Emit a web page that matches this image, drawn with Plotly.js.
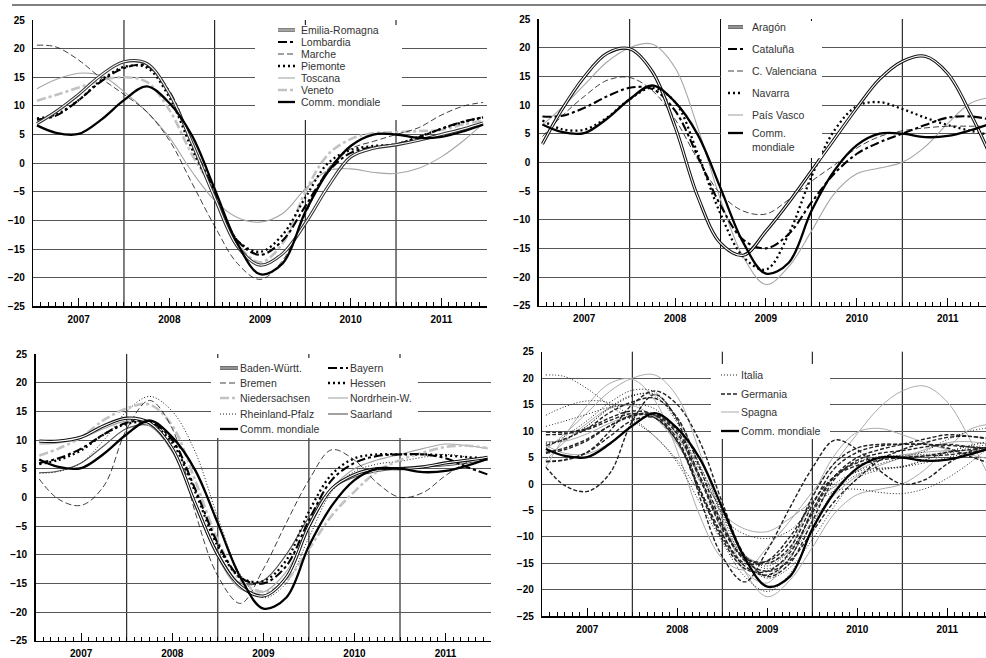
<!DOCTYPE html>
<html>
<head>
<meta charset="utf-8">
<script src="https://cdn.plot.ly/plotly-3.0.1.min.js"></script>
<style>
  html, body { margin: 0; padding: 0; background: #fff; }
  #chart { width: 986px; height: 658px; }
</style>
</head>
<body>
<div id="chart"></div>
<script>
// Time axis in fractional years (quarterly readings)
const X = [2007.04, 2007.25, 2007.5, 2007.75, 2008.0, 2008.25, 2008.5, 2008.75, 2009.0, 2009.25,
           2009.5, 2009.75, 2010.0, 2010.25, 2010.5, 2010.75, 2011.0, 2011.25, 2011.5, 2011.75, 2011.96];
const YEAR_MID = [2007.5, 2008.5, 2009.5, 2010.5, 2011.5];
const YEAR_LABELS = ['2007', '2008', '2009', '2010', '2011'];
const YEAR_BOUNDS = [2008, 2009, 2010, 2011];

// World trade
const commMondiale = [6.6, 5.3, 5.1, 7.6, 11.0, 13.4, 10.5, 4.8, -4.5, -14.0, -19.4, -17.5, -8.5, -1.5, 3.0, 5.0, 5.0, 4.4, 4.6, 5.6, 6.7];

// Italian regions
const ITALY_NAMES = ['Emilia-Romagna', 'Lombardia', 'Marche', 'Piemonte', 'Toscana', 'Veneto'];
const emiliaRomagna = [6.9, 9.0, 12.0, 15.4, 17.7, 17.4, 12.2, 3.5, -6.0, -14.5, -17.8, -15.8, -10.5, -4.1, 1.1, 2.6, 3.2, 4.0, 5.0, 6.0, 7.0];
const lombardia     = [7.6, 8.3, 11.0, 14.3, 16.6, 17.0, 12.5, 3.5, -5.0, -13.5, -16.0, -13.5, -7.5, -1.5, 1.8, 2.8, 3.3, 4.5, 6.0, 7.3, 8.0];
const marche        = [20.6, 20.3, 18.0, 14.8, 12.0, 9.0, 4.0, -3.5, -11.0, -17.5, -20.3, -17.0, -9.0, -1.0, 2.5, 3.8, 5.0, 6.2, 8.4, 10.0, 10.6];
const piemonte      = [7.8, 8.5, 11.0, 14.5, 16.8, 16.7, 11.5, 2.5, -5.5, -13.5, -15.5, -12.5, -6.0, 0.0, 2.3, 3.0, 3.3, 4.6, 6.0, 7.2, 8.0];
const toscana       = [13.0, 14.6, 15.7, 15.3, 12.5, 9.0, 4.5, -1.5, -6.5, -9.5, -10.3, -8.8, -4.5, -1.3, -1.0, -1.6, -1.8, -0.9, 1.1, 4.0, 6.9];
const veneto        = [10.9, 11.9, 13.2, 14.5, 15.0, 14.2, 9.3, 1.5, -5.0, -14.0, -17.3, -14.0, -5.0, 1.5, 4.2, 5.2, 5.4, 5.6, 5.8, 6.8, 7.5];

// Spanish regions
const SPAIN_NAMES = ['Aragón', 'Cataluña', 'C. Valenciana', 'Navarra', 'País Vasco'];
const aragon     = [3.2, 9.1, 14.9, 19.0, 19.8, 15.8, 6.2, -6.0, -14.1, -16.2, -12.0, -7.0, -1.5, 4.0, 9.5, 14.5, 17.6, 18.5, 15.5, 8.5, 1.5];
const cataluna   = [8.0, 8.1, 9.5, 11.5, 13.0, 12.8, 9.0, 1.0, -7.5, -13.5, -15.0, -12.5, -7.0, -2.0, 1.5, 3.5, 5.0, 6.5, 7.8, 8.0, 7.5];
const valenciana = [4.5, 8.0, 11.5, 14.3, 14.8, 12.5, 7.5, 0.5, -5.5, -8.5, -9.0, -6.5, -3.3, -0.5, 2.5, 4.5, 5.5, 6.0, 6.3, 6.3, 6.3];
const navarra    = [7.3, 5.8, 5.7, 7.8, 11.0, 13.0, 10.5, 1.5, -9.0, -16.5, -18.7, -12.5, -2.5, 5.5, 9.8, 10.5, 9.3, 7.8, 6.5, 5.5, 4.8];
const paisVasco  = [6.5, 9.5, 13.5, 17.5, 20.0, 20.6, 16.5, 6.0, -6.5, -16.5, -21.3, -18.2, -12.0, -5.5, -2.0, -1.0, 0.0, 2.7, 6.8, 10.3, 11.3];

// German Länder
const GERMANY_NAMES = ['Baden-Württ.', 'Bayern', 'Bremen', 'Hessen', 'Niedersachsen', 'Nordrhein-W.', 'Rheinland-Pfalz', 'Saarland'];
const badenWurtt    = [9.8, 9.8, 10.5, 12.5, 13.8, 13.0, 8.5, -1.0, -10.0, -15.5, -17.2, -14.0, -5.0, 1.5, 4.0, 5.0, 5.0, 5.3, 6.0, 6.5, 7.0];
const bayern        = [6.0, 6.8, 8.5, 11.0, 13.0, 13.2, 10.0, 1.5, -8.0, -14.0, -15.0, -12.0, -4.0, 3.0, 6.0, 7.2, 7.5, 7.5, 6.8, 5.2, 4.0];
const bremen        = [3.2, -0.3, -1.4, 2.0, 11.9, 16.9, 12.0, -2.5, -13.7, -18.5, -12.5, -4.5, 3.0, 8.3, 6.5, 2.5, 0.0, 0.8, 3.8, 6.2, 7.0];
const hessen        = [5.8, 6.5, 8.2, 11.0, 12.8, 13.0, 9.5, 1.0, -8.5, -14.0, -14.6, -11.0, -2.5, 4.0, 6.8, 7.5, 7.5, 7.5, 7.3, 7.0, 6.8];
const niedersachsen = [7.3, 8.5, 10.5, 13.5, 15.5, 16.2, 12.5, 3.0, -7.5, -14.5, -16.5, -14.5, -9.0, -3.2, 1.0, 4.5, 6.5, 7.8, 8.8, 9.0, 8.6];
const nordrheinW    = [9.3, 9.5, 10.3, 12.0, 13.3, 12.5, 8.0, -1.5, -10.5, -16.0, -16.5, -13.0, -5.5, 1.5, 5.0, 6.5, 7.5, 8.5, 9.3, 9.0, 8.5];
const rheinlandPf   = [4.2, 4.5, 6.0, 10.0, 15.0, 17.6, 15.0, 8.0, -3.5, -13.5, -17.5, -15.0, -7.0, 1.0, 4.5, 5.8, 6.3, 7.0, 7.5, 7.0, 6.5];
const saarland      = [4.3, 4.6, 6.0, 9.0, 12.0, 12.5, 8.0, -1.0, -9.5, -15.0, -14.5, -10.0, -3.5, 1.5, 3.5, 4.5, 5.0, 5.3, 5.5, 6.0, 6.5];

const COMM_NAME = 'Comm. mondiale';
const GROUP_NAMES = ['Italia', 'Germania', 'Spagna'];

// ---- line styles ----
const ST = {
  double:   { color: '#333', width: 3.2, inner: '#fff', innerWidth: 1.1 },
  doubleBk: { color: '#111', width: 3.2, inner: '#fff', innerWidth: 1.1 },
  dashDot:  { color: '#000', width: 2.1, dash: '9px,3px,3px,3px' },
  thinDash: { color: '#111', width: 0.8, dash: '6px,3px' },
  dot:      { color: '#000', width: 2.3, dash: '2px,3px' },
  grayThin: { color: '#a6a6a6', width: 1.1 },
  grayDash: { color: '#c2c2c2', width: 2.6, dash: '9px,3px,3px,3px' },
  fineDot:  { color: '#222', width: 1, dash: '1px,2px' },
  midGray:  { color: '#555', width: 1.1 },
  comm:     { color: '#000', width: 2.3 },
  itDot:    { color: '#222', width: 1, dash: '1px,2px' },
  deDash:   { color: '#222', width: 1.4, dash: '4px,2px' },
  esGray:   { color: '#ababab', width: 1 }
};

const italy = [
  { name: ITALY_NAMES[0], y: emiliaRomagna, st: ST.double },
  { name: ITALY_NAMES[1], y: lombardia, st: ST.dashDot },
  { name: ITALY_NAMES[2], y: marche, st: ST.thinDash },
  { name: ITALY_NAMES[3], y: piemonte, st: ST.dot },
  { name: ITALY_NAMES[4], y: toscana, st: ST.grayThin },
  { name: ITALY_NAMES[5], y: veneto, st: ST.grayDash }
];
const spain = [
  { name: SPAIN_NAMES[0], y: aragon, st: ST.doubleBk },
  { name: SPAIN_NAMES[1], y: cataluna, st: ST.dashDot },
  { name: SPAIN_NAMES[2], y: valenciana, st: ST.thinDash },
  { name: SPAIN_NAMES[3], y: navarra, st: ST.dot },
  { name: SPAIN_NAMES[4], y: paisVasco, st: ST.grayThin }
];
const germany = [
  { name: GERMANY_NAMES[0], y: badenWurtt, st: ST.doubleBk },
  { name: GERMANY_NAMES[1], y: bayern, st: ST.dashDot },
  { name: GERMANY_NAMES[2], y: bremen, st: ST.thinDash },
  { name: GERMANY_NAMES[3], y: hessen, st: ST.dot },
  { name: GERMANY_NAMES[4], y: niedersachsen, st: ST.grayDash },
  { name: GERMANY_NAMES[5], y: nordrheinW, st: ST.grayThin },
  { name: GERMANY_NAMES[6], y: rheinlandPf, st: ST.fineDot },
  { name: GERMANY_NAMES[7], y: saarland, st: ST.midGray }
];

const traces = [];
function lineOf(color, width, dash) {
  const l = { color: color, width: width, shape: 'spline', smoothing: 1 };
  if (dash) l.dash = dash;
  return l;
}
function addSeries(xa, ya, name, vals, st) {
  traces.push({ type: 'scatter', mode: 'lines', x: X, y: vals, xaxis: xa, yaxis: ya, name: name,
                showlegend: false, hoverinfo: 'skip', line: lineOf(st.color, st.width, st.dash) });
  if (st.inner) {
    traces.push({ type: 'scatter', mode: 'lines', x: X, y: vals, xaxis: xa, yaxis: ya, name: name,
                  showlegend: false, hoverinfo: 'skip', line: lineOf(st.inner, st.innerWidth) });
  }
}

// panel 1: Italy, panel 2: Spain, panel 3: Germany
[[italy, 'x', 'y'], [spain, 'x2', 'y2'], [germany, 'x3', 'y3']].forEach(([set, xa, ya]) => {
  set.slice().reverse().forEach(s => addSeries(xa, ya, s.name, s.y, s.st));
  addSeries(xa, ya, COMM_NAME, commMondiale, ST.comm);
});
// panel 4: all regions grouped by country
spain.forEach(s => addSeries('x4', 'y4', GROUP_NAMES[2], s.y, ST.esGray));
germany.forEach(s => addSeries('x4', 'y4', GROUP_NAMES[1], s.y, ST.deDash));
italy.forEach(s => addSeries('x4', 'y4', GROUP_NAMES[0], s.y, ST.itDot));
addSeries('x4', 'y4', COMM_NAME, commMondiale, ST.comm);

// ---- axes ----
const W = 986, H = 658;
const tickFont = { family: 'Liberation Sans, Arial, sans-serif', size: 10, color: '#000', weight: 'bold' };
function xAxis(domain, end) {
  return {
    domain: domain, range: [2007, end], fixedrange: true,
    tickmode: 'array', tickvals: YEAR_MID, ticktext: YEAR_LABELS,
    ticks: 'inside', ticklen: 8, tickwidth: 1, tickcolor: '#000',
    minor: { tickmode: 'linear', tick0: 2007, dtick: 1 / 12, ticks: 'inside', ticklen: 4,
             tickwidth: 1, tickcolor: '#000', showgrid: false },
    showgrid: false, zeroline: false, showline: true, linecolor: '#000', linewidth: 1.5,
    tickfont: tickFont, ticklabelstandoff: 3
  };
}
function yAxis(domain, anchor) {
  return {
    domain: domain, anchor: anchor, range: [-25, 25], fixedrange: true,
    tickmode: 'linear', tick0: -25, dtick: 5, ticks: '',
    showgrid: true, gridcolor: '#555', gridwidth: 1, zeroline: false,
    showline: true, linecolor: '#000', linewidth: 1.5,
    tickfont: tickFont, ticklabelstandoff: 5
  };
}
const px = v => v / W;
const py = v => 1 - v / H;

const layout = {
  width: W, height: H, autosize: false,
  margin: { l: 0, r: 0, t: 0, b: 0, pad: 0 },
  paper_bgcolor: '#fff', plot_bgcolor: '#fff',
  showlegend: false,
  font: { family: 'Liberation Sans, Arial, sans-serif', color: '#000' },
  xaxis:  Object.assign(xAxis([px(33.3), px(486.7)], 2012), { anchor: 'y' }),
  yaxis:  yAxis([py(306.3), py(20)], 'x'),
  xaxis2: Object.assign(xAxis([px(538.8), 1], 2011.921), { anchor: 'y2' }),
  yaxis2: yAxis([py(305.7), py(19)], 'x2'),
  xaxis3: Object.assign(xAxis([px(35.6), px(491.1)], 2012), { anchor: 'y3' }),
  yaxis3: yAxis([py(640.7), py(354)], 'x3'),
  xaxis4: Object.assign(xAxis([px(542.3), 1], 2011.93), { anchor: 'y4' }),
  yaxis4: yAxis([py(616.3), py(351.7)], 'x4'),
  shapes: [],
  annotations: []
};

// rule across the top of the page
layout.shapes.push({ type: 'line', xref: 'paper', yref: 'paper', x0: px(12), x1: 1, y0: py(5), y1: py(5),
                     line: { color: '#555', width: 1.6 } });

// year separators
[['x', 'y'], ['x2', 'y2'], ['x3', 'y3'], ['x4', 'y4']].forEach(([xa, ya]) => {
  YEAR_BOUNDS.forEach(yr => {
    layout.shapes.push({ type: 'line', xref: xa, yref: ya + ' domain', x0: yr, x1: yr, y0: 0, y1: 1,
                         layer: 'below', line: { color: '#000', width: 1 } });
  });
});

// ---- legends ----
const legFont = { family: 'Liberation Sans, Arial, sans-serif', size: 10.5, color: '#333' };
function legendBox(x0, y0, x1, y1) {
  layout.shapes.push({ type: 'rect', xref: 'paper', yref: 'paper', x0: px(x0), x1: px(x1), y0: py(y1), y1: py(y0),
                       fillcolor: '#fff', line: { width: 0 }, layer: 'above' });
}
function legendItem(s0, s1, tx, ty, label, st, textY) {
  layout.shapes.push({ type: 'line', xref: 'paper', yref: 'paper', x0: px(s0), x1: px(s1), y0: py(ty), y1: py(ty),
                       layer: 'above', line: { color: st.color, width: st.width, dash: st.dash || 'solid' } });
  if (st.inner) {
    layout.shapes.push({ type: 'line', xref: 'paper', yref: 'paper', x0: px(s0), x1: px(s1), y0: py(ty), y1: py(ty),
                         layer: 'above', line: { color: st.inner, width: st.innerWidth } });
  }
  layout.annotations.push({ xref: 'paper', yref: 'paper', x: px(tx - 1), y: py(textY || ty), text: label,
                            xanchor: 'left', yanchor: 'middle', align: 'left', showarrow: false, font: legFont });
}

// panel 1
legendBox(255, 25, 402, 120);
italy.forEach((s, i) => legendItem(278, 295, 300, 30 + 12 * i, s.name, s.st));
legendItem(278, 295, 300, 102, COMM_NAME, ST.comm);

// panel 2
legendBox(721, 21, 822, 158);
spain.forEach((s, i) => legendItem(728, 743, 751, 27 + 22 * i, s.name, s.st));
legendItem(728, 743, 751, 133, COMM_NAME.replace(' ', '<br>'), ST.comm, 139.5);

// panel 3 (two columns)
legendBox(211, 358, 418, 438);
const rows3 = [368, 383, 398, 414, 429];
germany.forEach((s, i) => {
  const col = i % 2, row = Math.floor(i / 2);
  if (col === 0) legendItem(220, 238, 239, rows3[row], s.name, s.st);
  else legendItem(328, 348, 349, rows3[row], s.name, s.st);
});
legendItem(220, 238, 239, rows3[4], COMM_NAME, ST.comm);

// panel 4
legendBox(711, 364, 830, 439);
const rows4 = [375, 394, 412, 431];
legendItem(721, 739, 740, rows4[0], GROUP_NAMES[0], ST.itDot);
legendItem(721, 739, 740, rows4[1], GROUP_NAMES[1], ST.deDash);
legendItem(721, 739, 740, rows4[2], GROUP_NAMES[2], ST.esGray);
legendItem(721, 739, 740, rows4[3], COMM_NAME, ST.comm);

Plotly.newPlot('chart', traces, layout, { staticPlot: true, displayModeBar: false });
</script>
</body>
</html>
